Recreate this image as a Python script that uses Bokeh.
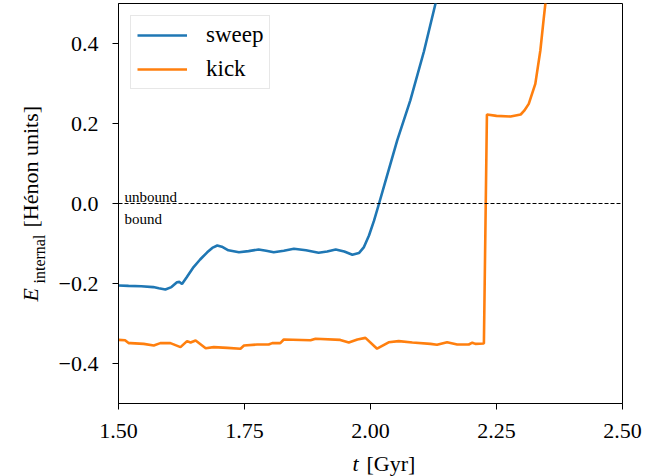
import math
from bokeh.plotting import figure
from bokeh.layouts import row, column
from bokeh.models import Range1d, FixedTicker, Label, Span, Legend, LegendItem
from bokeh.core.properties import value
from bokeh.embed import file_html
from bokeh.resources import INLINE

# ---- data ----
sweep_t = [1.500, 1.520, 1.545, 1.569, 1.580, 1.593, 1.605, 1.616, 1.621, 1.626,
           1.635, 1.649, 1.662, 1.676, 1.686, 1.696, 1.705, 1.718, 1.739, 1.758,
           1.778, 1.793, 1.808, 1.828, 1.848, 1.872, 1.897, 1.914, 1.931, 1.948,
           1.964, 1.977, 1.987, 1.997, 2.007, 2.017, 2.030, 2.053, 2.079, 2.106,
           2.129, 2.135]
sweep_E = [-0.205, -0.206, -0.207, -0.209, -0.212, -0.215, -0.209, -0.197, -0.196, -0.201,
           -0.185, -0.159, -0.140, -0.122, -0.111, -0.105, -0.108, -0.117, -0.122, -0.119,
           -0.115, -0.118, -0.122, -0.118, -0.113, -0.117, -0.123, -0.120, -0.115, -0.120,
           -0.128, -0.124, -0.109, -0.080, -0.043, 0.000, 0.057, 0.158, 0.258, 0.380,
           0.500, 0.530]

kick_t = [1.500, 1.513, 1.520, 1.524, 1.550, 1.570, 1.583, 1.603, 1.623, 1.636,
          1.643, 1.653, 1.673, 1.689, 1.716, 1.742, 1.749, 1.775, 1.798, 1.805,
          1.821, 1.828, 1.881, 1.891, 1.940, 1.957, 1.974, 1.990, 2.013, 2.036,
          2.056, 2.083, 2.119, 2.132, 2.152, 2.172, 2.195, 2.202, 2.208, 2.225,
          2.231, 2.250, 2.278, 2.298, 2.305, 2.314, 2.327, 2.337, 2.344, 2.347, 2.350]
kick_E = [-0.341, -0.342, -0.349, -0.349, -0.351, -0.355, -0.349, -0.349, -0.359, -0.344,
          -0.3475, -0.3425, -0.362, -0.359, -0.361, -0.363, -0.355, -0.3525, -0.3525, -0.349,
          -0.349, -0.340, -0.342, -0.338, -0.341, -0.3475, -0.340, -0.336, -0.363, -0.347,
          -0.344, -0.3475, -0.351, -0.353, -0.347, -0.3525, -0.3525, -0.348, -0.351, -0.350,
          0.2225, 0.219, 0.2175, 0.2225, 0.232, 0.249, 0.299, 0.3825, 0.466, 0.500, 0.530]

x_ticks = [1.5, 1.75, 2.0, 2.25, 2.5]
x_tick_labels = ["1.50", "1.75", "2.00", "2.25", "2.50"]
y_ticks = [-0.4, -0.2, 0.0, 0.2, 0.4]
y_tick_labels = ["\u22120.4", "\u22120.2", "0.0", "0.2", "0.4"]
bound_level = 0.0

FONT = "Liberation Serif"
BLUE = "#1f77b4"
ORANGE = "#ff7f0e"

LEFT_W = 50          # strip holding the rotated y label
MAIN_W = 620
MAIN_H = 446
XLAB_H = 30
TOTAL_H = MAIN_H + XLAB_H


def blank(width, height, x0, x1, y_top, y_bottom):
    f = figure(width=width, height=height,
               x_range=Range1d(x0, x1), y_range=Range1d(y_bottom, y_top),
               min_border=0, x_axis_location=None, y_axis_location=None,
               output_backend="svg", toolbar_location=None)
    f.xgrid.visible = False
    f.ygrid.visible = False
    f.outline_line_color = None
    f.background_fill_color = "white"
    f.border_fill_color = "white"
    return f


# ---- main plot ----
p = figure(x_range=Range1d(1.5, 2.5), y_range=Range1d(-0.5, 0.5),
           frame_width=504, frame_height=400,
           min_border_left=MAIN_W - 504 - 48, min_border_right=48,
           min_border_top=3, min_border_bottom=MAIN_H - 403,
           output_backend="svg", toolbar_location=None)
p.background_fill_color = "white"
p.border_fill_color = "white"
p.outline_line_color = "black"
p.outline_line_width = 1
p.outline_line_alpha = 1
p.xgrid.visible = False
p.ygrid.visible = False

for ax in (p.xaxis[0], p.yaxis[0]):
    ax.axis_line_color = "black"
    ax.major_tick_line_color = "black"
    ax.major_tick_out = 6
    ax.major_tick_in = 0
    ax.minor_tick_line_color = None
    ax.major_label_text_font = FONT
    ax.major_label_text_font_size = "22px"
    ax.major_label_text_color = "black"

p.xaxis.ticker = FixedTicker(ticks=x_ticks)
p.xaxis.major_label_overrides = dict(zip(x_ticks, x_tick_labels))
p.xaxis.major_label_standoff = 14
p.yaxis.ticker = FixedTicker(ticks=y_ticks)
p.yaxis.major_label_overrides = dict(zip(y_ticks, y_tick_labels))
p.yaxis.major_label_standoff = 14

span = Span(location=bound_level, dimension="width", line_color="black",
            line_width=1, line_dash="4 2")
p.add_layout(span)

r1 = p.line(sweep_t, sweep_E, line_color=BLUE, line_width=2.6)
r2 = p.line(kick_t, kick_E, line_color=ORANGE, line_width=2.6)

legend = Legend(items=[LegendItem(label="sweep", renderers=[r1]),
                       LegendItem(label="kick", renderers=[r2])],
                location="top_left", margin=12, padding=6, spacing=8,
                glyph_width=50, glyph_height=24, label_height=24,
                label_standoff=19,
                label_text_font=FONT, label_text_font_size="23px",
                label_text_color="black",
                border_line_color="#d0d0d0", border_line_width=1.5,
                background_fill_color="white", background_fill_alpha=0.8)
p.add_layout(legend)

for txt, yo in (("unbound", 7), ("bound", -15)):
    p.add_layout(Label(x=1.5, y=bound_level, x_offset=6, y_offset=yo, text=txt,
                       text_font=FONT, text_font_size="15px", text_color="black",
                       text_align="left", text_baseline="alphabetic"))

# ---- y axis label strip (pixel coordinates, y down) ----
yl = blank(LEFT_W, TOTAL_H, 0, LEFT_W, 0, TOTAL_H)
half = math.pi / 2
yl.text(x=[30], y=[301], text=["E"], angle=half, text_font=value(FONT),
        text_font_style="italic", text_font_size="22px", text_color="black",
        text_align="left", text_baseline="alphabetic")
yl.text(x=[39], y=[283], text=["internal"], angle=half, text_font=value(FONT),
        text_font_size="16px", text_color="black",
        text_align="left", text_baseline="alphabetic")
yl.text(x=[30], y=[227], text=["[Hénon units]"], angle=half, text_font=value(FONT),
        text_font_size="22px", text_color="black",
        text_align="left", text_baseline="alphabetic")

# ---- x axis label strip ----
xl = blank(MAIN_W, XLAB_H, LEFT_W, LEFT_W + MAIN_W, MAIN_H, TOTAL_H)
xl.text(x=[338], y=[463], text=["t"], text_font=value(FONT),
        text_font_style="italic", text_font_size="22px", text_color="black",
        text_align="left", text_baseline="alphabetic")
xl.text(x=[355], y=[463], text=["[Gyr]"], text_font=value(FONT),
        text_font_size="22px", text_color="black",
        text_align="left", text_baseline="alphabetic")

layout = row(yl, column(p, xl, spacing=0), spacing=0)

open("out.html", "w").write(file_html(layout, INLINE))
